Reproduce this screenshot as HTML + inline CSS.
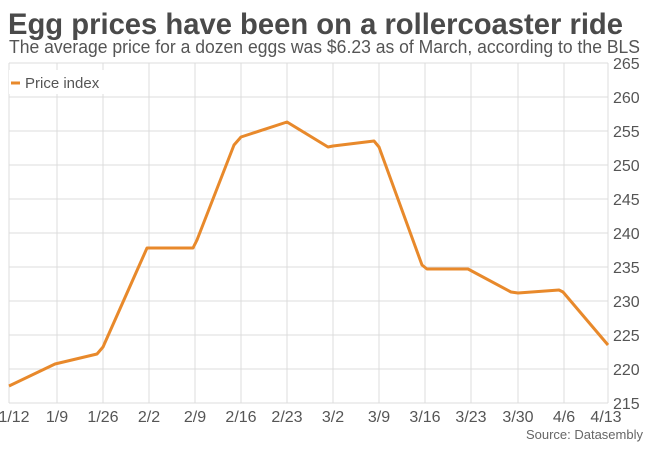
<!DOCTYPE html>
<html><head><meta charset="utf-8"><style>
body{margin:0;background:#fff;}
svg{display:block;font-family:"Liberation Sans",sans-serif;}
</style></head><body>
<svg width="657" height="454" viewBox="0 0 657 454">
<text x="8" y="34" font-size="30" font-weight="bold" fill="#4a4a4a" textLength="615" lengthAdjust="spacingAndGlyphs">Egg prices have been on a rollercoaster ride</text>
<text x="9" y="53" font-size="18" fill="#555" textLength="631" lengthAdjust="spacingAndGlyphs">The average price for a dozen eggs was $6.23 as of March, according to the BLS</text>
<g stroke="#dcdcdc" stroke-width="1">
<line x1="9" y1="63" x2="608" y2="63"/>
<line x1="9" y1="97" x2="608" y2="97"/>
<line x1="9" y1="131" x2="608" y2="131"/>
<line x1="9" y1="165" x2="608" y2="165"/>
<line x1="9" y1="199" x2="608" y2="199"/>
<line x1="9" y1="233" x2="608" y2="233"/>
<line x1="9" y1="267" x2="608" y2="267"/>
<line x1="9" y1="301" x2="608" y2="301"/>
<line x1="9" y1="335" x2="608" y2="335"/>
<line x1="9" y1="369" x2="608" y2="369"/>
<line x1="9" y1="403" x2="608" y2="403"/>
<line x1="9" y1="63" x2="9" y2="403"/>
<line x1="57" y1="63" x2="57" y2="403"/>
<line x1="103" y1="63" x2="103" y2="403"/>
<line x1="149" y1="63" x2="149" y2="403"/>
<line x1="195" y1="63" x2="195" y2="403"/>
<line x1="241" y1="63" x2="241" y2="403"/>
<line x1="287" y1="63" x2="287" y2="403"/>
<line x1="333" y1="63" x2="333" y2="403"/>
<line x1="379" y1="63" x2="379" y2="403"/>
<line x1="425" y1="63" x2="425" y2="403"/>
<line x1="471" y1="63" x2="471" y2="403"/>
<line x1="518" y1="63" x2="518" y2="403"/>
<line x1="564" y1="63" x2="564" y2="403"/>
<line x1="608" y1="63" x2="608" y2="403"/>
</g>
<rect x="9" y="70" width="95" height="24" fill="#fff"/>
<line x1="11" y1="83" x2="20" y2="83" stroke="#e8892b" stroke-width="3"/>
<text x="25" y="88" font-size="15" fill="#555">Price index</text>
<polyline fill="none" stroke="#e8892b" stroke-width="3" stroke-linejoin="round" points="9,386 55,364 97,354 103,347 147,248 193,248 197,240 234,145 241,137 287,122 328,147 333,146 374,141 379,147 422,265 427,269 468,269 511,292 518,293 559,290 563,292 608,345"/>
<g font-size="16" fill="#555">
<text x="613" y="69">265</text><text x="613" y="103">260</text><text x="613" y="137">255</text>
<text x="613" y="171">250</text><text x="613" y="205">245</text><text x="613" y="239">240</text>
<text x="613" y="273">235</text><text x="613" y="307">230</text><text x="613" y="341">225</text>
<text x="613" y="375">220</text><text x="613" y="409">215</text>
</g>
<g font-size="16" fill="#555" text-anchor="middle">
<text x="14" y="422">1/12</text><text x="57" y="422">1/9</text><text x="103" y="422">1/26</text>
<text x="149" y="422">2/2</text><text x="195" y="422">2/9</text><text x="241" y="422">2/16</text>
<text x="287" y="422">2/23</text><text x="333" y="422">3/2</text><text x="379" y="422">3/9</text>
<text x="425" y="422">3/16</text><text x="471" y="422">3/23</text><text x="518" y="422">3/30</text>
<text x="564" y="422">4/6</text><text x="606" y="422">4/13</text>
</g>
<text x="643" y="439" font-size="13" fill="#666" text-anchor="end">Source: Datasembly</text>
</svg>
</body></html>
